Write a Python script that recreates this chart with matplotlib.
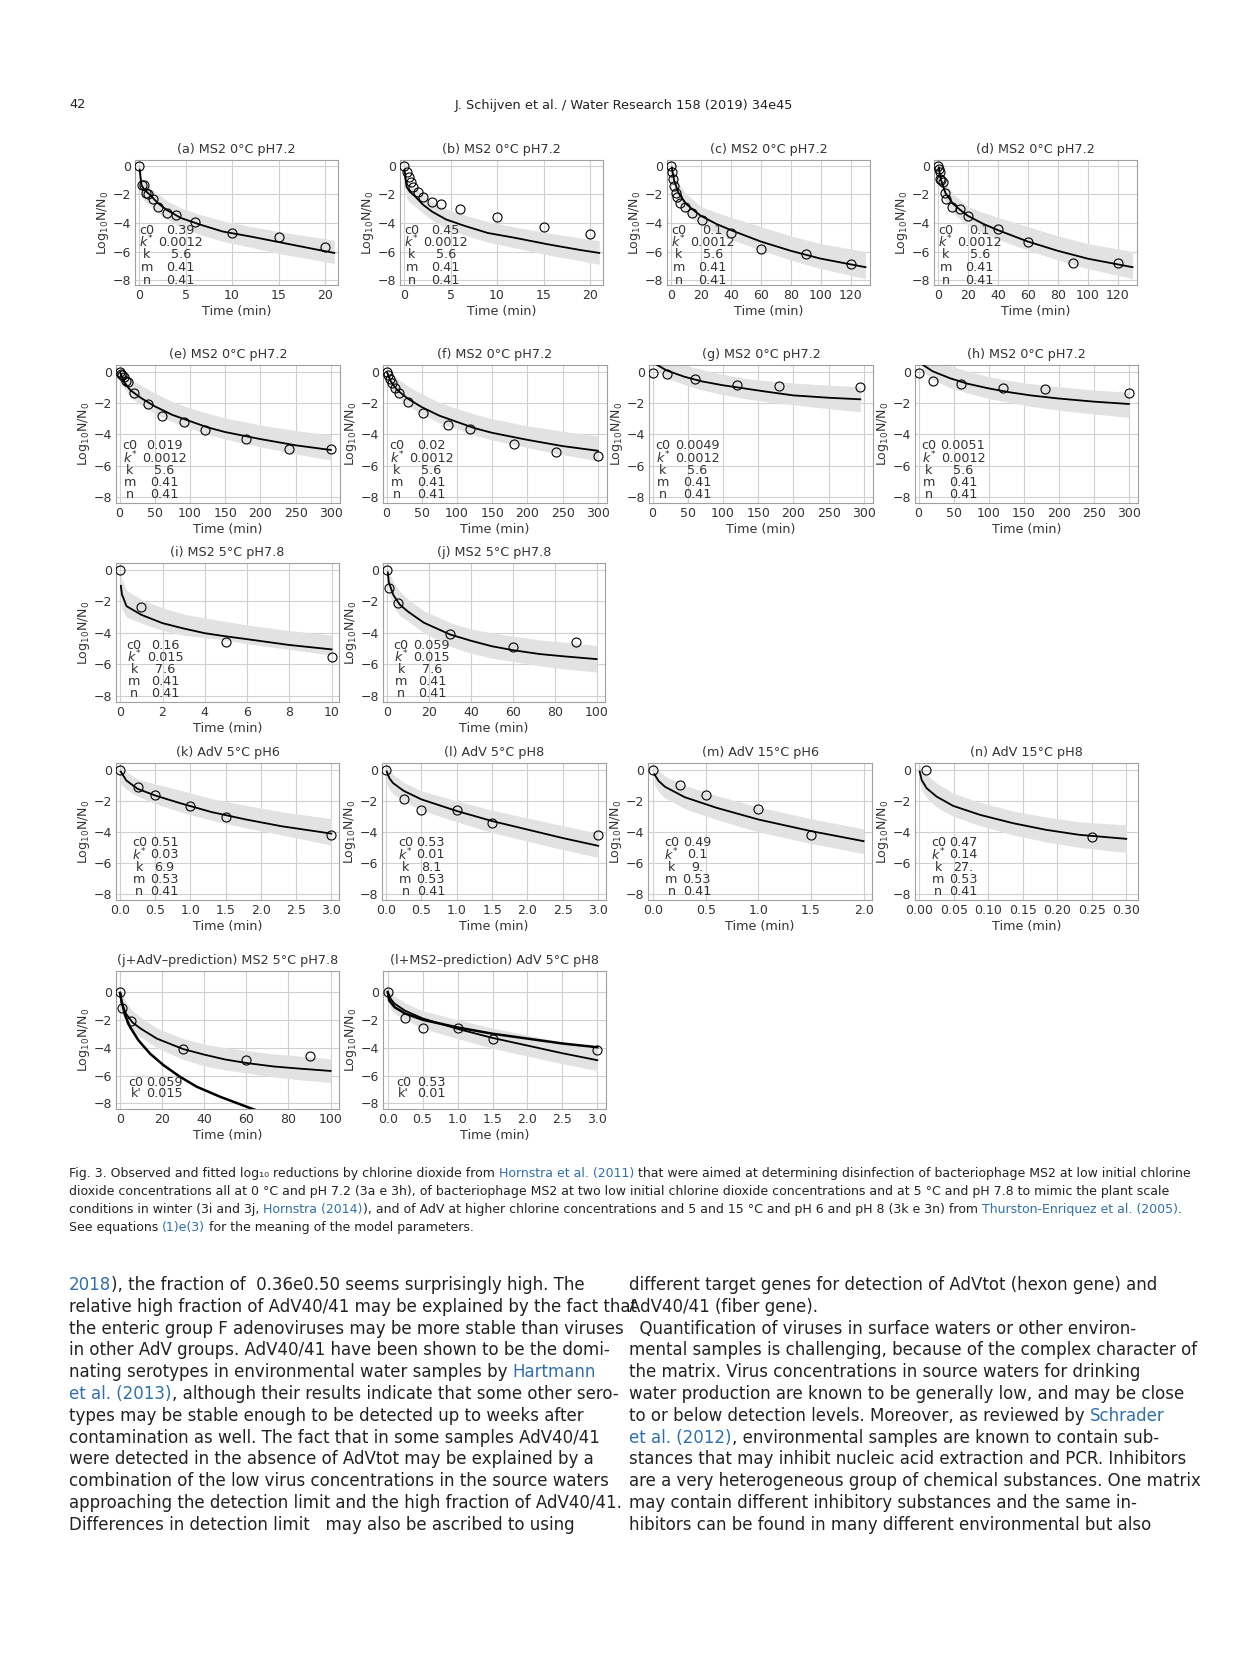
import matplotlib.pyplot as plt
from matplotlib.ticker import FormatStrFormatter

W, H = 1241, 1654

# observed points, fitted curve, band (upper/lower) and parameters per panel
a_t = [0, 0.25, 0.5, 0.75, 1, 1.5, 2, 3, 4, 6, 10, 15, 20]
a_y = [0, -1.35, -1.35, -1.9, -2.0, -2.3, -2.85, -3.3, -3.45, -3.95, -4.7, -5.0, -5.65]
a_ft = [0.05, 0.25, 0.6, 1.2, 2, 3, 4.5, 6.5, 9, 12, 15.5, 19, 21]
a_fy = [-0.25, -1.35, -1.7, -2.05, -2.6, -3.1, -3.65, -4.1, -4.6, -4.95, -5.4, -5.85, -6.1]
a_hi = [0.3, -0.8, -1.15, -1.5, -1.95, -2.45, -2.95, -3.4, -3.85, -4.25, -4.65, -5.0, -5.2]
a_lo = [-1.0, -2.2, -2.5, -2.8, -3.25, -3.75, -4.3, -4.8, -5.3, -5.7, -6.2, -6.6, -6.85]
a_par = ["0.39", "0.0012", "5.6", "0.41", "0.41"]

b_t = [0, 0.25, 0.5, 0.75, 1, 1.5, 2, 3, 4, 6, 10, 15, 20]
b_y = [0, -0.45, -0.8, -1.15, -1.45, -1.85, -2.2, -2.5, -2.7, -3.0, -3.55, -4.3, -4.8]
b_ft = [0.05, 0.25, 0.6, 1.2, 2, 3, 4.5, 6.5, 9, 12, 15.5, 19, 21]
b_fy = [-0.3, -1.45, -1.8, -2.15, -2.7, -3.2, -3.75, -4.2, -4.7, -5.05, -5.5, -5.9, -6.1]
b_hi = [0.3, -0.85, -1.2, -1.55, -2.0, -2.5, -3.0, -3.45, -3.9, -4.3, -4.7, -5.05, -5.25]
b_lo = [-1.05, -2.25, -2.55, -2.85, -3.3, -3.8, -4.35, -4.85, -5.35, -5.75, -6.25, -6.65, -6.9]
b_par = ["0.45", "0.0012", "5.6", "0.41", "0.41"]

c_t = [0, 0.5, 1, 2, 3, 4, 6, 9, 14, 21, 40, 60, 90, 120]
c_y = [0, -0.4, -0.9, -1.4, -1.9, -2.2, -2.6, -2.9, -3.3, -3.8, -4.7, -5.8, -6.2, -6.9]
c_ft = [0.5, 2, 5, 10, 15, 20, 30, 40, 60, 80, 100, 130]
c_fy = [-0.1, -1.0, -1.9, -2.65, -3.1, -3.5, -4.05, -4.5, -5.3, -5.95, -6.5, -7.1]
c_hi = [0.3, -0.4, -1.2, -1.95, -2.4, -2.85, -3.25, -3.6, -4.25, -4.9, -5.45, -6.0]
c_lo = [-0.6, -1.6, -2.6, -3.3, -3.75, -4.15, -4.7, -5.15, -5.9, -6.6, -7.2, -7.9]
c_par = ["0.1", "0.0012", "5.6", "0.41", "0.41"]

d_t = [0, 0.5, 1, 1, 2, 3, 4.5, 5.5, 9.5, 15, 20, 40, 60, 90, 120]
d_y = [0, -0.2, -0.4, -0.9, -1.0, -1.15, -1.9, -2.3, -2.9, -3.0, -3.5, -4.45, -5.3, -6.8, -6.8]
d_ft = [0.5, 2, 5, 10, 15, 20, 30, 40, 60, 80, 100, 130]
d_fy = [-0.1, -1.0, -1.9, -2.65, -3.1, -3.5, -4.05, -4.5, -5.3, -5.95, -6.5, -7.1]
d_hi = [0.3, -0.4, -1.2, -1.95, -2.4, -2.85, -3.25, -3.6, -4.25, -4.9, -5.45, -6.0]
d_lo = [-0.6, -1.6, -2.6, -3.3, -3.75, -4.15, -4.7, -5.15, -5.9, -6.6, -7.2, -7.9]
d_par = ["0.1", "0.0012", "5.6", "0.41", "0.41"]

e_t = [0, 2, 4, 6, 8.5, 12, 21, 41, 61, 91, 121, 180, 240, 300]
e_y = [0, -0.1, -0.2, -0.3, -0.55, -0.65, -1.35, -2.05, -2.85, -3.2, -3.75, -4.3, -4.95, -4.95]
e_ft = [1, 6, 15, 30, 50, 75, 100, 125, 150, 200, 250, 300]
e_fy = [-0.05, -0.6, -1.15, -1.65, -2.2, -2.75, -3.15, -3.55, -3.85, -4.3, -4.7, -5.0]
e_hi = [0.3, 0.0, -0.4, -0.85, -1.35, -1.9, -2.3, -2.65, -2.95, -3.4, -3.75, -4.05]
e_lo = [-0.4, -1.0, -1.6, -2.1, -2.65, -3.2, -3.6, -4.0, -4.3, -4.8, -5.25, -5.65]
e_par = ["0.019", "0.0012", "5.6", "0.41", "0.41"]

f_t = [0, 1.5, 5, 8, 12, 18, 30, 52, 87, 119, 181, 240, 300]
f_y = [0, -0.2, -0.45, -0.7, -1.0, -1.35, -1.95, -2.6, -3.4, -3.65, -4.6, -5.1, -5.4]
f_ft = [1, 6, 15, 30, 50, 75, 100, 125, 150, 200, 250, 300]
f_fy = [-0.05, -0.6, -1.15, -1.7, -2.25, -2.8, -3.2, -3.6, -3.9, -4.35, -4.75, -5.05]
f_hi = [0.3, 0.0, -0.4, -0.9, -1.4, -1.95, -2.35, -2.7, -3.0, -3.45, -3.8, -4.1]
f_lo = [-0.4, -1.0, -1.6, -2.15, -2.7, -3.25, -3.65, -4.05, -4.35, -4.85, -5.3, -5.7]
f_par = ["0.02", "0.0012", "5.6", "0.41", "0.41"]

g_t = [0, 20, 60, 120, 180, 295]
g_y = [-0.05, -0.1, -0.45, -0.85, -0.9, -0.95]
g_ft = [5, 20, 45, 70, 100, 130, 160, 200, 250, 295]
g_fy = [0.5, 0.1, -0.3, -0.6, -0.85, -1.05, -1.25, -1.5, -1.65, -1.75]
g_hi = [0.6, 0.6, 0.45, 0.15, -0.15, -0.4, -0.55, -0.7, -0.85, -0.95]
g_lo = [0.2, -0.4, -0.8, -1.15, -1.45, -1.7, -1.9, -2.1, -2.35, -2.55]
g_par = ["0.0049", "0.0012", "5.6", "0.41", "0.41"]

h_t = [0, 20, 60, 120, 180, 300]
h_y = [-0.05, -0.55, -0.8, -1.05, -1.1, -1.35]
h_ft = [5, 20, 45, 70, 100, 130, 160, 200, 250, 300]
h_fy = [0.5, 0.05, -0.4, -0.75, -1.05, -1.3, -1.5, -1.7, -1.9, -2.05]
h_hi = [0.6, 0.6, 0.4, 0.05, -0.3, -0.55, -0.75, -0.95, -1.15, -1.3]
h_lo = [0.15, -0.5, -1.0, -1.35, -1.7, -1.95, -2.2, -2.45, -2.7, -2.9]
h_par = ["0.0051", "0.0012", "5.6", "0.41", "0.41"]

i_t = [0, 1, 5, 10]
i_y = [0, -2.35, -4.6, -5.55]
i_ft = [0.03, 0.08, 0.3, 1, 2, 3, 4, 5, 6, 8, 10]
i_fy = [-1.0, -1.55, -2.3, -2.85, -3.38, -3.72, -4.02, -4.22, -4.4, -4.77, -5.05]
i_hi = [-0.1, -0.55, -1.3, -1.87, -2.4, -2.8, -3.05, -3.27, -3.5, -3.85, -4.13]
i_lo = [-1.8, -2.5, -3.0, -3.38, -3.85, -4.15, -4.3, -4.45, -4.7, -5.05, -5.42]
i_par = ["0.16", "0.015", "7.6", "0.41", "0.41"]

j_t = [0, 1, 5, 30, 60, 90]
j_y = [0, -1.15, -2.12, -4.1, -4.9, -4.58]
j_ft = [0.3, 0.8, 3, 6, 10, 17.5, 30, 40, 50, 60, 73, 85, 100]
j_fy = [-0.15, -0.8, -1.6, -2.2, -2.65, -3.35, -4.1, -4.5, -4.85, -5.1, -5.35, -5.5, -5.67]
j_hi = [0.3, -0.1, -0.8, -1.35, -1.85, -2.6, -3.35, -3.75, -4.0, -4.2, -4.45, -4.6, -4.8]
j_lo = [-0.7, -1.4, -2.3, -2.9, -3.25, -4.0, -4.85, -5.3, -5.6, -5.82, -6.1, -6.3, -6.5]
j_par = ["0.059", "0.015", "7.6", "0.41", "0.41"]

k_t = [0, 0.25, 0.5, 1, 1.5, 3]
k_y = [0, -1.1, -1.6, -2.3, -3.05, -4.2]
k_ft = [0.01, 0.09, 0.25, 0.5, 0.85, 1.3, 1.8, 2.3, 3.0]
k_fy = [-0.1, -0.68, -1.22, -1.65, -2.14, -2.72, -3.21, -3.64, -4.11]
k_hi = [0.3, -0.1, -0.6, -0.9, -1.3, -1.85, -2.3, -2.7, -3.15]
k_lo = [-0.9, -1.25, -1.7, -2.18, -2.7, -3.25, -3.75, -4.2, -4.85]
k_par = ["0.51", "0.03", "6.9", "0.53", "0.41"]

l_t = [0, 0.25, 0.5, 1, 1.5, 3]
l_y = [0, -1.9, -2.6, -2.6, -3.4, -4.2]
l_ft = [0.01, 0.05, 0.1, 0.25, 0.5, 1, 1.5, 2, 2.5, 3]
l_fy = [-0.1, -0.55, -0.85, -1.35, -1.9, -2.65, -3.3, -3.85, -4.4, -4.9]
l_hi = [0.4, 0.0, -0.3, -0.8, -1.35, -2.0, -2.6, -3.1, -3.6, -4.1]
l_lo = [-0.9, -1.3, -1.55, -2.0, -2.6, -3.35, -4.05, -4.6, -5.15, -5.65]
l_par = ["0.53", "0.01", "8.1", "0.53", "0.41"]

m_t = [0, 0.25, 0.5, 1, 1.5]
m_y = [0, -1.0, -1.6, -2.5, -4.2]
m_ft = [0.01, 0.05, 0.11, 0.3, 0.6, 1.0, 1.5, 2.0]
m_fy = [-0.27, -0.7, -1.08, -1.76, -2.44, -3.2, -3.95, -4.6]
m_hi = [0.3, 0.0, -0.4, -1.0, -1.65, -2.4, -3.15, -3.8]
m_lo = [-0.9, -1.4, -1.8, -2.5, -3.2, -4.0, -4.75, -5.4]
m_par = ["0.49", "0.1", "9.", "0.53", "0.41"]

n_t = [0.01, 0.25]
n_y = [0, -4.3]
n_ft = [0.0005, 0.0034, 0.0106, 0.025, 0.049, 0.088, 0.136, 0.184, 0.232, 0.30]
n_fy = [-0.1, -0.65, -1.18, -1.72, -2.32, -2.9, -3.44, -3.87, -4.19, -4.45]
n_hi = [0.3, 0.1, -0.3, -0.85, -1.5, -2.1, -2.65, -3.05, -3.35, -3.55]
n_lo = [-0.8, -1.3, -1.8, -2.4, -3.0, -3.6, -4.2, -4.65, -5.0, -5.33]
n_par = ["0.47", "0.14", "27.", "0.53", "0.41"]

# predictions (bottom row)
p1_t = [0, 0.8, 2.4, 4.7, 8.7, 14.2, 20.6, 28.5, 36.4, 47.5, 60, 64]
p1_y = [-0.07, -0.72, -1.67, -2.5, -3.46, -4.42, -5.25, -6.09, -6.8, -7.52, -8.23, -8.45]
p1_par = ["0.059", "0.015"]
p2_t = [0, 0.02, 0.1, 0.25, 0.5, 1.0, 1.5, 2.0, 2.5, 3.0]
p2_y = [0, -0.6, -1.1, -1.55, -2.0, -2.55, -3.0, -3.35, -3.7, -3.97]
p2_par = ["0.53", "0.01"]

par_names = ["c0", "$k^{*}$", "k", "m", "n"]
pred_names = ["c0", "k'"]

BAND = "#e2e2e2"
TXT = "#333333"
BLUE = "#2f6fad"

fig = plt.figure(figsize=(W / 100, H / 100), dpi=100)
fig.patch.set_facecolor("white")

page = fig.add_axes([0, 0, 1, 1])
page.set_xlim(0, W)
page.set_ylim(H, 0)
page.axis("off")


def panel(box, title, t, y, ft, fy, hi, lo, xlim, xticks, fmt, par, names,
          lx, vx, ty, dy, ylim=(-8.4, 0.45), pred=None):
    x0, y0, x1, y1 = box
    ax = fig.add_axes([x0 / W, 1 - y1 / H, (x1 - x0) / W, (y1 - y0) / H])
    ax.fill_between(ft, lo, hi, color=BAND, lw=0, zorder=1)
    ax.plot(ft, fy, color="k", lw=1.3, zorder=3)
    if pred is not None:
        ax.plot(pred[0], pred[1], color="k", lw=1.8, zorder=3)
    ax.plot(t, y, "o", mfc="none", mec="k", ms=6.5, mew=0.8, zorder=4)
    ax.set_xlim(*xlim)
    ax.set_ylim(*ylim)
    ax.set_xticks(xticks)
    ax.set_yticks([0, -2, -4, -6, -8])
    if fmt:
        ax.xaxis.set_major_formatter(FormatStrFormatter(fmt))
    ax.grid(True, color="#d0d0d0", lw=0.8)
    ax.set_axisbelow(True)
    for s in ax.spines.values():
        s.set_color("#a0a0a0")
        s.set_linewidth(0.8)
    ax.tick_params(length=0, labelsize=9, colors=TXT, pad=3)
    ax.set_title(title, fontsize=9.2, color=TXT, pad=5)
    ax.set_xlabel("Time (min)", fontsize=9.2, color=TXT, labelpad=2)
    ax.set_ylabel("Log$_{10}$N/N$_0$", fontsize=9, color=TXT, labelpad=1)
    for i, (nm, v) in enumerate(zip(names, par)):
        yy = ty - i * dy
        ax.text(lx, yy, nm, transform=ax.transAxes, ha="center", va="center",
                fontsize=9.2, color=TXT, zorder=5)
        ax.text(vx, yy, v, transform=ax.transAxes, ha="center", va="center",
                fontsize=9.2, color=TXT, zorder=5)
    return ax


r1 = (-8.35, 0.42)
panel((135, 160, 338, 285), "(a) MS2 0°C pH7.2", a_t, a_y, a_ft, a_fy, a_hi, a_lo,
      (-0.45, 21.4), [0, 5, 10, 15, 20], None, a_par, par_names, 0.058, 0.225, 0.44, 0.1, r1)
panel((400, 160, 603, 285), "(b) MS2 0°C pH7.2", b_t, b_y, b_ft, b_fy, b_hi, b_lo,
      (-0.45, 21.4), [0, 5, 10, 15, 20], None, b_par, par_names, 0.058, 0.225, 0.44, 0.1, r1)
panel((667, 160, 870, 285), "(c) MS2 0°C pH7.2", c_t, c_y, c_ft, c_fy, c_hi, c_lo,
      (-2.7, 133), [0, 20, 40, 60, 80, 100, 120], None, c_par, par_names, 0.058, 0.225, 0.44, 0.1, r1)
panel((934, 160, 1137, 285), "(d) MS2 0°C pH7.2", d_t, d_y, d_ft, d_fy, d_hi, d_lo,
      (-2.7, 133), [0, 20, 40, 60, 80, 100, 120], None, d_par, par_names, 0.058, 0.225, 0.44, 0.1, r1)

x300 = [0, 50, 100, 150, 200, 250, 300]
panel((116, 365, 340, 503), "(e) MS2 0°C pH7.2", e_t, e_y, e_ft, e_fy, e_hi, e_lo,
      (-5, 313), x300, None, e_par, par_names, 0.062, 0.215, 0.414, 0.088)
panel((383, 365, 607, 503), "(f) MS2 0°C pH7.2", f_t, f_y, f_ft, f_fy, f_hi, f_lo,
      (-5, 313), x300, None, f_par, par_names, 0.062, 0.215, 0.414, 0.088)
panel((649, 365, 873, 503), "(g) MS2 0°C pH7.2", g_t, g_y, g_ft, g_fy, g_hi, g_lo,
      (-5, 313), x300, None, g_par, par_names, 0.062, 0.215, 0.414, 0.088)
panel((915, 365, 1138, 503), "(h) MS2 0°C pH7.2", h_t, h_y, h_ft, h_fy, h_hi, h_lo,
      (-5, 313), x300, None, h_par, par_names, 0.062, 0.215, 0.414, 0.088)

panel((116, 563, 339, 702), "(i) MS2 5°C pH7.8", i_t, i_y, i_ft, i_fy, i_hi, i_lo,
      (-0.2, 10.35), [0, 2, 4, 6, 8, 10], None, i_par, par_names, 0.082, 0.22, 0.41, 0.088)
panel((383, 563, 605, 702), "(j) MS2 5°C pH7.8", j_t, j_y, j_ft, j_fy, j_hi, j_lo,
      (-2, 104), [0, 20, 40, 60, 80, 100], None, j_par, par_names, 0.082, 0.22, 0.41, 0.088)

x3 = [0, 0.5, 1.0, 1.5, 2.0, 2.5, 3.0]
panel((116, 763, 339, 900), "(k) AdV 5°C pH6", k_t, k_y, k_ft, k_fy, k_hi, k_lo,
      (-0.057, 3.11), x3, "%.1f", k_par, par_names, 0.105, 0.218, 0.42, 0.09)
panel((382, 763, 606, 900), "(l) AdV 5°C pH8", l_t, l_y, l_ft, l_fy, l_hi, l_lo,
      (-0.057, 3.11), x3, "%.1f", l_par, par_names, 0.105, 0.218, 0.42, 0.09)
panel((648, 763, 872, 900), "(m) AdV 15°C pH6", m_t, m_y, m_ft, m_fy, m_hi, m_lo,
      (-0.05, 2.08), [0, 0.5, 1.0, 1.5, 2.0], "%.1f", m_par, par_names, 0.105, 0.218, 0.42, 0.09)
panel((915, 763, 1138, 900), "(n) AdV 15°C pH8", n_t, n_y, n_ft, n_fy, n_hi, n_lo,
      (-0.0063, 0.317), [0, 0.05, 0.1, 0.15, 0.2, 0.25, 0.3], "%.2f", n_par, par_names,
      0.105, 0.218, 0.42, 0.09)

r5 = (-8.4, 1.5)
panel((116, 971, 339, 1109), "(j+AdV–prediction) MS2 5°C pH7.8", j_t, j_y, j_ft, j_fy, j_hi, j_lo,
      (-1.9, 104), [0, 20, 40, 60, 80, 100], None, p1_par, pred_names, 0.09, 0.218, 0.19, 0.08,
      r5, (p1_t, p1_y))
panel((383, 971, 606, 1109), "(l+MS2–prediction) AdV 5°C pH8", l_t, l_y, l_ft, l_fy, l_hi, l_lo,
      (-0.067, 3.124), x3, "%.1f", p2_par, pred_names, 0.093, 0.215, 0.19, 0.08,
      r5, (p2_t, p2_y))


# page text -----------------------------------------------------------------
def line(x, y, parts, size):
    t = None
    for s, c in parts:
        if t is None:
            t = page.text(x, y, s, color=c, fontsize=size, va="baseline", ha="left")
        else:
            t = page.annotate(s, xy=(1, 0), xycoords=t, color=c, fontsize=size,
                              va="bottom", ha="left")


page.text(69, 105, "42", fontsize=9.3, va="center", ha="left", color="#222")
page.text(624, 105, "J. Schijven et al. / Water Research 158 (2019) 34e45", fontsize=9.3,
          va="center", ha="center", color="#222")

K = "#222222"
cap = [
    [("Fig. 3. Observed and fitted log₁₀ reductions by chlorine dioxide from ", K),
     ("Hornstra et al. (2011)", BLUE),
     (" that were aimed at determining disinfection of bacteriophage MS2 at low initial chlorine", K)],
    [("dioxide concentrations all at 0 °C and pH 7.2 (3a e 3h), of bacteriophage MS2 at two low initial "
      "chlorine dioxide concentrations and at 5 °C and pH 7.8 to mimic the plant scale", K)],
    [("conditions in winter (3i and 3j, ", K), ("Hornstra (2014)", BLUE),
     ("), and of AdV at higher chlorine concentrations and 5 and 15 °C and pH 6 and pH 8 (3k e 3n) from ", K),
     ("Thurston-Enriquez et al. (2005)", BLUE), (".", K)],
    [("See equations ", K), ("(1)e(3)", BLUE), (" for the meaning of the model parameters.", K)],
]
for i, parts in enumerate(cap):
    line(69, 1177 + 18 * i, parts, 9.0)

left = [
    [("2018", BLUE), ("), the fraction of  0.36e0.50 seems surprisingly high. The", K)],
    [("relative high fraction of AdV40/41 may be explained by the fact that", K)],
    [("the enteric group F adenoviruses may be more stable than viruses", K)],
    [("in other AdV groups. AdV40/41 have been shown to be the domi-", K)],
    [("nating serotypes in environmental water samples by ", K), ("Hartmann", BLUE)],
    [("et al. (2013)", BLUE), (", although their results indicate that some other sero-", K)],
    [("types may be stable enough to be detected up to weeks after", K)],
    [("contamination as well. The fact that in some samples AdV40/41", K)],
    [("were detected in the absence of AdVtot may be explained by a", K)],
    [("combination of the low virus concentrations in the source waters", K)],
    [("approaching the detection limit and the high fraction of AdV40/41.", K)],
    [("Differences in detection limit   may also be ascribed to using", K)],
]
right = [
    [("different target genes for detection of AdVtot (hexon gene) and", K)],
    [("AdV40/41 (fiber gene).", K)],
    [("  Quantification of viruses in surface waters or other environ-", K)],
    [("mental samples is challenging, because of the complex character of", K)],
    [("the matrix. Virus concentrations in source waters for drinking", K)],
    [("water production are known to be generally low, and may be close", K)],
    [("to or below detection levels. Moreover, as reviewed by ", K), ("Schrader", BLUE)],
    [("et al. (2012)", BLUE), (", environmental samples are known to contain sub-", K)],
    [("stances that may inhibit nucleic acid extraction and PCR. Inhibitors", K)],
    [("are a very heterogeneous group of chemical substances. One matrix", K)],
    [("may contain different inhibitory substances and the same in-", K)],
    [("hibitors can be found in many different environmental but also", K)],
]
for i, parts in enumerate(left):
    line(69, 1290 + 21.8 * i, parts, 12.0)
for i, parts in enumerate(right):
    line(629, 1290 + 21.8 * i, parts, 12.0)

fig.savefig("out.png", dpi=100, facecolor="white")
